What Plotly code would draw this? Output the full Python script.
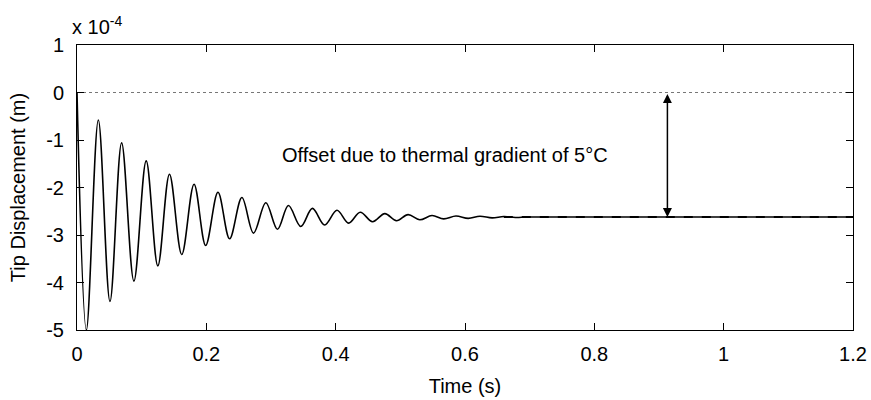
import plotly.graph_objects as go

# Extrema of the tip-displacement response (units of 1e-4 m)
time_s = [0.0, 0.0145, 0.033, 0.051, 0.069, 0.088, 0.107, 0.125, 0.143, 0.162,
          0.181, 0.199, 0.218, 0.236, 0.255, 0.273, 0.292, 0.310, 0.327, 0.346,
          0.364, 0.383, 0.402, 0.420, 0.438, 0.457, 0.476, 0.494, 0.512, 0.530,
          0.549, 0.567, 0.586, 0.605, 0.623, 0.642, 0.660, 0.678, 0.700, 1.2]
disp_e4 = [0.0, -5.0, -0.58, -4.40, -1.06, -3.97, -1.44, -3.65, -1.72, -3.41,
           -1.93, -3.22, -2.10, -3.08, -2.21, -2.96, -2.32, -2.88, -2.38, -2.82,
           -2.44, -2.79, -2.48, -2.75, -2.52, -2.72, -2.55, -2.70, -2.57, -2.68,
           -2.59, -2.66, -2.60, -2.65, -2.605, -2.64, -2.61, -2.63, -2.62, -2.62]

offset_e4 = -2.62
offset_dash_start = 0.66
arrow_time = 0.913
x_range = [0, 1.2]
y_range = [-5, 1]
x_ticks = [0, 0.2, 0.4, 0.6, 0.8, 1.0, 1.2]
x_tick_text = ["0", "0.2", "0.4", "0.6", "0.8", "1", "1.2"]
y_ticks = [-5, -4, -3, -2, -1, 0, 1]
y_tick_text = ["-5", "-4", "-3", "-2", "-1", "0", "1"]
annotation_text = "Offset due to thermal gradient of 5°C"

FONT = "Liberation Sans, Arial, sans-serif"
FS = 20

fig = go.Figure()

# zero reference (dotted)
fig.add_trace(go.Scatter(x=x_range, y=[0, 0], mode="lines",
                         line=dict(color="#777777", width=1, dash="dot"),
                         hoverinfo="skip", showlegend=False))
# steady offset (dashed)
fig.add_trace(go.Scatter(x=[offset_dash_start, x_range[1]], y=[offset_e4, offset_e4], mode="lines",
                         line=dict(color="black", width=2, dash="dash"),
                         hoverinfo="skip", showlegend=False))
# response
fig.add_trace(go.Scatter(x=time_s, y=disp_e4, mode="lines",
                         line=dict(color="black", width=1.6, shape="spline", smoothing=1.0),
                         showlegend=False))

# double-headed arrow
fig.add_annotation(x=arrow_time, y=offset_e4, ax=arrow_time, ay=0,
                   xref="x", yref="y", axref="x", ayref="y",
                   text="", showarrow=True, arrowhead=2, arrowside="end+start",
                   arrowsize=1.2, arrowwidth=1.5, arrowcolor="black")

fig.add_annotation(x=0.569, y=-1.32, xref="x", yref="y", text=annotation_text,
                   showarrow=False, font=dict(family=FONT, size=FS, color="black"))

# exponent label
fig.add_annotation(x=0, y=1, xref="paper", yref="paper", xanchor="left", yanchor="bottom",
                   xshift=-7, yshift=5,
                   text="x 10<sup>-4</sup>", showarrow=False,
                   font=dict(family=FONT, size=FS, color="black"))

axis_common = dict(showline=True, linecolor="black", linewidth=1, mirror="ticks",
                   ticks="inside", ticklen=7, tickcolor="black", tickwidth=1,
                   showgrid=False, zeroline=False, automargin=False,
                   tickfont=dict(family=FONT, size=FS, color="black"))

fig.update_xaxes(range=x_range, tickvals=x_ticks, ticktext=x_tick_text,
                 ticklabelstandoff=6,
                 title=dict(text="Time (s)", font=dict(family=FONT, size=FS, color="black"), standoff=14),
                 **axis_common)
fig.update_yaxes(range=y_range, tickvals=y_ticks, ticktext=y_tick_text,
                 ticklabelstandoff=8,
                 title=dict(text="Tip Displacement (m)", font=dict(family=FONT, size=FS, color="black"), standoff=15),
                 **axis_common)

fig.update_layout(width=871, height=400, margin=dict(l=77, r=18, t=45, b=70),
                  plot_bgcolor="white", paper_bgcolor="white",
                  font=dict(family=FONT, color="black"))

fig.write_html("out.html")
